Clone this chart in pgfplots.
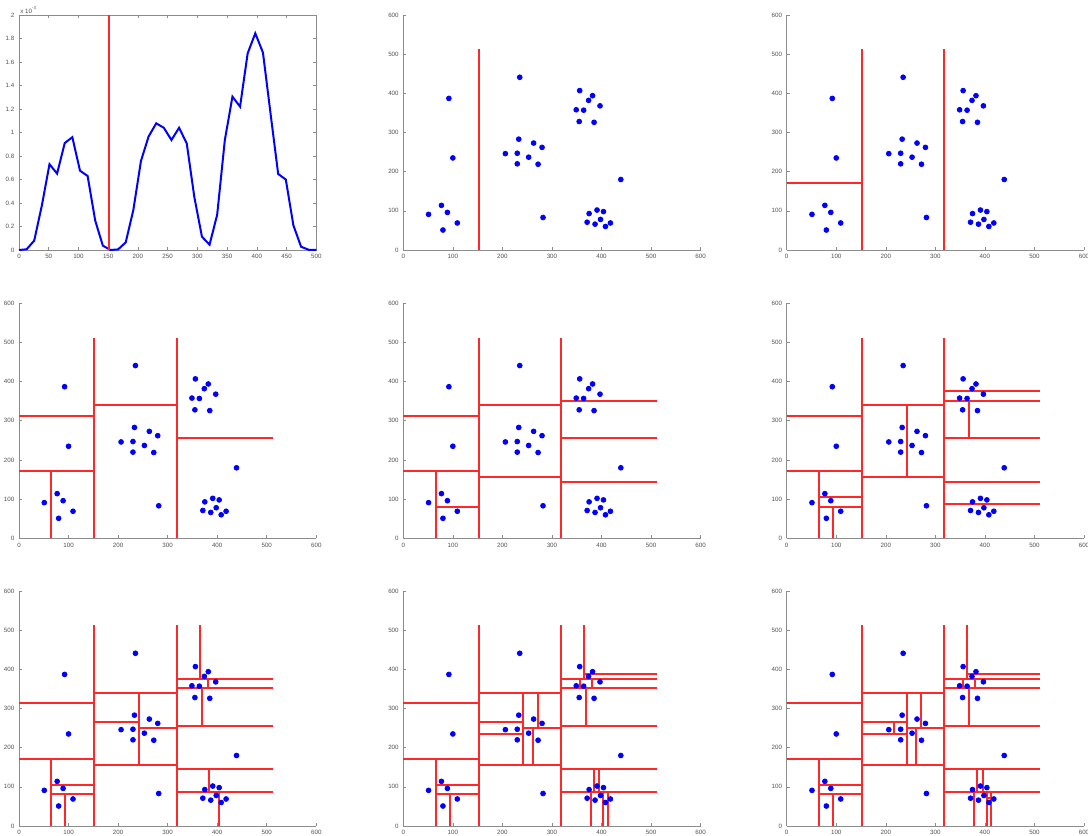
\documentclass[border=0pt]{standalone}
\usepackage{pgfplots}
\pgfplotsset{compat=1.18}
\usepackage{pgfplotstable}
\usepackage{fontspec}
\setmainfont{Liberation Sans}
\definecolor{mblue}{RGB}{0,0,255}
\definecolor{mred}{RGB}{255,40,40}

\pgfplotstableread{
x y
51 91
77 114
89 96
109 69
80 51
92 387
100 235
235 441
233 283
263 273
280 262
206 246
230 247
253 237
230 220
272 219
282 83
356 407
382 394
374 382
397 368
349 358
364 357
355 328
385 326
439 180
391 102
404 98
375 93
398 78
371 71
387 66
418 69
408 60
}\pts

\pgfplotstableread{
x y
0 0
12.8 0.006
25.6 0.08
38.5 0.38
51.3 0.73
64.1 0.65
76.9 0.91
89.7 0.96
102.6 0.675
115.4 0.63
128.2 0.25
141.0 0.037
153.8 0.0
166.7 0.005
179.5 0.065
192.3 0.34
205.1 0.757
217.9 0.965
230.8 1.078
243.6 1.04
256.4 0.936
269.2 1.04
282.1 0.908
294.9 0.45
307.7 0.113
320.5 0.045
333.3 0.30
346.2 0.936
359.0 1.305
371.8 1.22
384.6 1.674
397.4 1.844
410.3 1.68
423.1 1.16
435.9 0.647
448.7 0.60
461.5 0.21
474.4 0.028
487.2 0.002
500 0
}\dens

% split segments, one level per table; nan rows separate segments
\pgfplotstableread{
x y
152 0
152 512
}\levA
\pgfplotstableread{
x y
318 0
318 512
nan nan
0 171
152 171
}\levB
\pgfplotstableread{
x y
0 313
152 313
nan nan
65 0
65 171
nan nan
152 340
318 340
nan nan
318 255
512 255
}\levC
\pgfplotstableread{
x y
65 81
152 81
nan nan
152 157
318 157
nan nan
318 351.5
512 351.5
nan nan
318 145
512 145
}\levD
\pgfplotstableread{
x y
65 105
152 105
nan nan
93.5 0
93.5 81
nan nan
242 157
242 340
nan nan
318 376
512 376
nan nan
368.6 255
368.6 351.5
nan nan
318 87.7
512 87.7
}\levE
\pgfplotstableread{
x y
364.7 376
364.7 512
nan nan
381 351.5
381 376
nan nan
152 264.7
242 264.7
nan nan
242 250
318 250
nan nan
384 87.7
384 145
nan nan
403.8 0
403.8 87.7
}\levF
\pgfplotstableread{
x y
152 235.7
242 235.7
nan nan
271 250
271 340
nan nan
261.7 157
261.7 250
nan nan
364.7 389
512 389
nan nan
356.5 351.5
356.5 376
nan nan
395.5 87.7
395.5 145
nan nan
378 0
378 87.7
nan nan
413 0
413 87.7
}\levG
\pgfplotstableread{
x y
217 235.7
217 264.7
nan nan
403.8 72
413 72
}\levH

\pgfplotsset{
  base/.style={
    width=148.65pt, height=117.5pt, scale only axis, anchor=north west,
    /pgf/number format/assume math mode=true,
    ticklabel style={font=\fontsize{3.1}{3.4}\selectfont, text=black!68},
    axis line style={black!45, line width=0.35pt},
    tick style={black!45, line width=0.3pt},
    major tick length=1.4pt, tick align=inside,
    xticklabel style={yshift=1.2pt}, yticklabel style={xshift=1.2pt},
  },
  kd/.style={base,
    xmin=0, xmax=600, ymin=0, ymax=600,
    xtick={0,100,...,600}, ytick={0,100,...,600},
    axis lines*=left, clip=false,
  },
  kdline/.style={mred, line width=1pt, unbounded coords=jump, mark=none},
  dots/.style={only marks, mark=*, mark size=1.2pt, mark options={draw=mblue, fill=mblue}},
}
\newcommand\seg[1]{\addplot[kdline] table {#1};}
\newcommand\dotsplot{\addplot[dots] table {\pts};}

\begin{document}
\begin{tikzpicture}
\useasboundingbox (0,0) rectangle (544pt,418pt);
% panel 1: density
\begin{axis}[base, at={(9.5pt,410.5pt)},
  xmin=0, xmax=500, ymin=0, ymax=2,
  xtick={0,50,...,500}, ytick={0,0.2,...,2.01},
  yticklabel style={/pgf/number format/fixed},
  clip=false]
\addplot[mblue, line width=1pt] table {\dens};
\addplot[mred, line width=1pt] coordinates {(152,0) (152,2)};
\node[anchor=south west, inner sep=0.5pt, font=\fontsize{3.1}{3.4}\selectfont, text=black!68] at (rel axis cs:0,1) {x 10\textsuperscript{-3}};
\end{axis}
% row 1
\begin{axis}[kd, at={(201.65pt,410.5pt)}]
\seg\levA
\dotsplot
\end{axis}
\begin{axis}[kd, at={(393.35pt,410.5pt)}]
\seg\levA \seg\levB
\dotsplot
\end{axis}
% row 2
\begin{axis}[kd, at={(9.5pt,266.35pt)}]
\seg\levA \seg\levB \seg\levC
\dotsplot
\end{axis}
\begin{axis}[kd, at={(201.65pt,266.35pt)}]
\seg\levA \seg\levB \seg\levC \seg\levD
\dotsplot
\end{axis}
\begin{axis}[kd, at={(393.35pt,266.35pt)}]
\seg\levA \seg\levB \seg\levC \seg\levD \seg\levE
\dotsplot
\end{axis}
% row 3
\begin{axis}[kd, at={(9.5pt,122.5pt)}]
\seg\levA \seg\levB \seg\levC \seg\levD \seg\levE \seg\levF
\dotsplot
\end{axis}
\begin{axis}[kd, at={(201.65pt,122.5pt)}]
\seg\levA \seg\levB \seg\levC \seg\levD \seg\levE \seg\levF \seg\levG
\dotsplot
\end{axis}
\begin{axis}[kd, at={(393.35pt,122.5pt)}]
\seg\levA \seg\levB \seg\levC \seg\levD \seg\levE \seg\levF \seg\levG \seg\levH
\dotsplot
\end{axis}
\end{tikzpicture}
\end{document}
